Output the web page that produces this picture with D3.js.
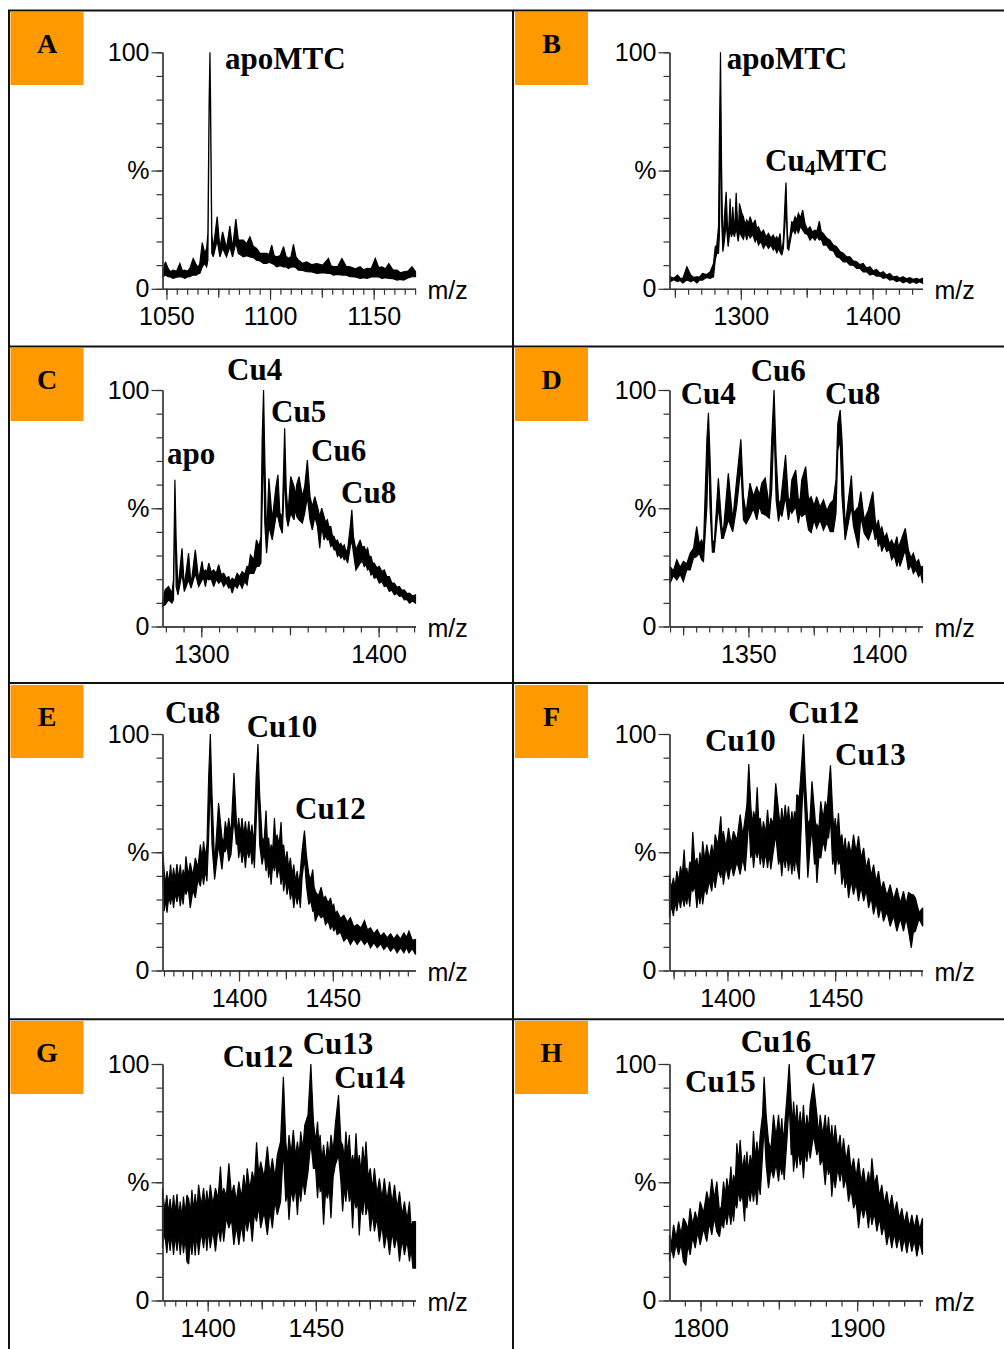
<!DOCTYPE html>
<html>
<head>
<meta charset="utf-8">
<script src="https://cdn.jsdelivr.net/npm/d3@7"></script>
<style>
  html, body { margin: 0; padding: 0; background: #fff; }
  svg { display: block; }
</style>
</head>
<body>
<script>
// ESI-MS spectra of copper loading, panels A–H.
// Each spectrum is a list of [m/z, upper %, lower %].

const panelLetters = ["A", "B", "C", "D", "E", "F", "G", "H"];

const mzDomains = [
  [1048.1, 1170.2], [1245.9, 1437.9], [1278.1, 1420.8], [1319.8, 1416.6],
  [1359.2, 1494.1], [1373.1, 1490.5], [1379.1, 1496.1], [1780.2, 1941.7]
];

const majorTicks = [
  [1050, 1100, 1150], [1300, 1400], [1300, 1400], [1350, 1400],
  [1400, 1450], [1400, 1450], [1400, 1450], [1800, 1900]
];

const minorStep = [5, 10, 10, 5, 5, 5, 5, 10];

const yTickLabels = ["0", "%", "100"];

const peakLabels = [
  [["apoMTC"]],
  [["apoMTC"], ["Cu", "4", "MTC"]],
  [["apo"], ["Cu4"], ["Cu5"], ["Cu6"], ["Cu8"]],
  [["Cu4"], ["Cu6"], ["Cu8"]],
  [["Cu8"], ["Cu10"], ["Cu12"]],
  [["Cu10"], ["Cu12"], ["Cu13"]],
  [["Cu12"], ["Cu13"], ["Cu14"]],
  [["Cu15"], ["Cu16"], ["Cu17"]]
];

const spectrumA = [
  [1048.4, 7.9, 5.1], [1049.5, 11.4, 5.8], [1050.8, 8.6, 5.1], [1052.0, 7.2, 5.0],
  [1053.2, 7.9, 4.4], [1054.9, 7.4, 4.9], [1056.5, 10.7, 5.1], [1057.7, 7.6, 4.9],
  [1058.9, 7.9, 4.4], [1060.1, 7.4, 5.0], [1061.3, 8.6, 5.1], [1062.9, 12.8, 5.8],
  [1064.5, 10.0, 5.8], [1065.3, 9.0, 6.4], [1066.1, 10.7, 6.5], [1067.3, 19.5, 9.3],
  [1068.5, 15.0, 10.7], [1069.4, 17.1, 9.3], [1070.0, 23.4, 12.1], [1070.6, 79.8, 72.8],
  [1071.0, 100, 98.2], [1071.3, 79.8, 72.8], [1071.9, 23.4, 15.0], [1072.6, 17.1, 13.5],
  [1074.5, 30.5, 20.6], [1075.8, 17.1, 13.5], [1077.1, 24.1, 17.1], [1079.0, 17.1, 13.5],
  [1080.6, 26.5, 17.8], [1081.9, 17.1, 13.5], [1083.5, 29.5, 19.5], [1084.7, 20.6, 15.0],
  [1087.1, 20.6, 13.5], [1088.7, 19.0, 14.0], [1090.3, 22.0, 13.5], [1091.9, 18.0, 13.2],
  [1093.5, 17.1, 12.1], [1095.2, 15.0, 11.8], [1096.8, 15.0, 10.7], [1098.4, 15.0, 10.7],
  [1099.6, 14.5, 11.2], [1100.8, 18.5, 10.7], [1102.0, 14.0, 10.3], [1103.2, 13.5, 9.3],
  [1104.9, 14.0, 9.8], [1106.5, 17.8, 9.3], [1107.7, 13.8, 9.3], [1108.9, 12.8, 8.6],
  [1110.1, 13.5, 9.2], [1111.3, 18.8, 9.3], [1112.5, 13.5, 8.9], [1113.7, 12.1, 7.9],
  [1115.7, 10.8, 7.8], [1117.7, 11.4, 7.2], [1120.2, 10.2, 7.1], [1122.6, 10.7, 6.5],
  [1125.4, 10.0, 6.8], [1128.2, 12.8, 6.5], [1129.4, 9.8, 6.4], [1130.6, 9.3, 5.8],
  [1132.7, 9.5, 6.1], [1134.7, 12.8, 5.8], [1136.7, 9.5, 5.8], [1138.7, 9.3, 5.1],
  [1141.1, 8.5, 5.0], [1143.5, 9.3, 4.4], [1145.2, 8.0, 4.7], [1146.8, 8.6, 4.4],
  [1148.8, 8.5, 5.0], [1150.8, 12.8, 5.1], [1152.4, 9.0, 5.0], [1154.0, 9.3, 4.4],
  [1155.7, 8.5, 4.7], [1157.3, 10.7, 4.4], [1159.3, 8.0, 4.3], [1161.3, 7.9, 3.7],
  [1162.9, 6.8, 4.0], [1164.5, 7.2, 3.7], [1166.5, 7.5, 4.6], [1168.5, 9.3, 5.1],
  [1170.2, 7.2, 5.1]
];

const spectrumB = [
  [1246.5, 5.1, 3.0], [1249.2, 4.5, 3.8], [1252.0, 5.8, 3.0], [1254.0, 4.5, 3.5],
  [1256.0, 4.4, 2.5], [1259.1, 9.3, 3.7], [1262.0, 5.8, 3.0], [1264.3, 4.8, 3.6],
  [1266.7, 5.1, 2.5], [1268.8, 5.0, 3.8], [1271.0, 6.5, 3.7], [1273.9, 6.0, 4.8],
  [1276.8, 7.2, 4.4], [1279.3, 10.7, 5.1], [1280.6, 17.8, 12.1], [1281.8, 18.5, 15.0],
  [1283.1, 26.2, 15.0], [1283.8, 65.0, 23.4], [1284.6, 100, 79.8], [1285.4, 52.0, 30.5],
  [1286.4, 17.8, 15.7], [1287.5, 30.0, 20.0], [1288.9, 41.0, 28.0], [1290.4, 19.2, 17.8],
  [1291.9, 38.2, 25.0], [1292.9, 23.4, 22.0], [1293.9, 34.7, 24.0], [1295.2, 23.4, 22.0],
  [1296.5, 40.6, 26.0], [1298.0, 22.0, 20.0], [1299.0, 36.1, 24.0], [1300.8, 31.9, 22.0],
  [1302.0, 30.5, 21.0], [1303.2, 27.0, 24.0], [1304.5, 29.1, 20.6], [1305.8, 27.5, 23.5],
  [1307.1, 30.5, 21.5], [1309.0, 27.0, 23.0], [1310.9, 29.1, 19.9], [1312.1, 25.5, 21.5],
  [1313.4, 26.2, 18.5], [1315.3, 23.5, 20.0], [1317.2, 24.8, 17.1], [1319.1, 22.0, 19.0],
  [1321.0, 23.4, 17.1], [1322.8, 21.5, 18.5], [1324.7, 22.7, 16.4], [1326.0, 21.0, 17.5],
  [1327.3, 22.0, 15.0], [1328.5, 20.5, 17.0], [1329.8, 23.4, 15.7], [1331.1, 15.0, 14.2],
  [1332.3, 20.6, 17.1], [1333.8, 40.0, 30.0], [1334.3, 44.9, 37.5], [1335.4, 23.4, 17.1],
  [1336.4, 17.8, 16.4], [1338.6, 28.3, 23.4], [1339.9, 28.0, 25.0], [1341.2, 30.5, 23.4],
  [1342.4, 29.0, 25.5], [1343.7, 31.9, 23.4], [1345.3, 30.0, 26.5], [1347.0, 33.3, 24.8],
  [1348.7, 27.6, 23.4], [1350.6, 25.0, 23.0], [1352.5, 26.2, 20.6], [1354.4, 24.0, 22.0],
  [1356.3, 24.8, 20.6], [1357.9, 24.5, 22.0], [1359.6, 28.6, 20.6], [1361.1, 24.0, 21.0],
  [1362.6, 23.4, 18.5], [1365.1, 21.5, 18.5], [1367.7, 20.6, 16.4], [1370.2, 18.5, 16.0],
  [1372.7, 17.8, 13.5], [1375.2, 15.8, 13.0], [1377.8, 15.0, 11.4], [1380.3, 13.5, 11.5],
  [1382.8, 13.5, 10.0], [1385.3, 11.8, 10.0], [1387.9, 11.4, 8.6], [1390.4, 10.2, 8.6],
  [1392.9, 10.7, 7.2], [1395.4, 8.8, 7.3], [1398.0, 9.3, 5.8], [1400.5, 7.6, 6.3],
  [1403.0, 8.2, 5.4], [1405.5, 6.6, 5.5], [1408.1, 7.2, 4.4], [1410.6, 5.8, 4.8],
  [1413.1, 6.5, 3.7], [1415.6, 5.0, 4.0], [1418.2, 5.4, 3.0], [1420.7, 4.5, 3.5],
  [1423.2, 5.1, 2.5], [1425.7, 4.2, 3.2], [1428.3, 4.7, 2.3], [1430.8, 4.0, 3.0],
  [1433.3, 4.4, 2.3], [1435.6, 3.9, 3.0], [1437.9, 4.4, 2.3]
];

const spectrumC = [
  [1278.1, 9.9, 8.5], [1279.6, 15.5, 9.2], [1281.5, 16.9, 11.3], [1283.4, 14.1, 9.9],
  [1284.3, 19.7, 11.3], [1285.1, 62.0, 50.7], [1285.8, 36.6, 16.9], [1286.8, 15.5, 13.4],
  [1289.1, 33.1, 22.5], [1290.4, 16.9, 14.8], [1292.8, 31.0, 19.7], [1294.2, 17.6, 16.2],
  [1296.6, 32.4, 22.5], [1298.5, 19.7, 16.9], [1300.4, 27.5, 19.7], [1301.3, 23.0, 20.5],
  [1302.3, 23.9, 16.9], [1303.2, 23.0, 20.5], [1304.2, 26.8, 19.7], [1305.6, 23.0, 20.0],
  [1307.0, 23.9, 16.9], [1308.4, 22.5, 20.0], [1309.8, 26.1, 18.3], [1311.2, 22.0, 19.5],
  [1312.6, 22.5, 16.9], [1314.0, 20.5, 18.5], [1315.5, 21.1, 16.2], [1316.4, 19.0, 17.0],
  [1317.4, 20.4, 14.1], [1318.8, 19.5, 17.5], [1320.2, 22.5, 16.2], [1321.6, 21.0, 18.5],
  [1323.0, 23.2, 16.2], [1324.4, 22.0, 19.0], [1325.8, 25.4, 17.6], [1326.7, 25.0, 22.0],
  [1327.7, 30.3, 22.5], [1329.6, 28.2, 22.5], [1331.1, 36.6, 25.4], [1332.5, 33.8, 25.4],
  [1333.6, 38.0, 26.8], [1334.3, 78.9, 50.7], [1335.1, 100, 78.9], [1335.8, 71.8, 43.7],
  [1336.8, 36.6, 31.0], [1338.1, 62.7, 42.3], [1340.0, 45.1, 36.6], [1342.1, 59.2, 46.5],
  [1343.2, 64.1, 46.5], [1344.3, 47.9, 42.3], [1345.7, 46.5, 39.4], [1347.0, 83.8, 64.8],
  [1347.9, 57.7, 46.5], [1348.9, 47.9, 42.3], [1350.4, 63.4, 47.9], [1352.3, 59.2, 45.1],
  [1353.0, 55.0, 50.0], [1353.8, 60.0, 46.5], [1355.1, 63.4, 45.1], [1357.0, 54.9, 43.7],
  [1358.3, 59.2, 47.9], [1359.8, 70.4, 54.9], [1361.3, 54.9, 45.1], [1362.6, 50.7, 40.8],
  [1364.0, 54.9, 46.5], [1365.5, 50.7, 42.3], [1366.8, 46.5, 33.1], [1367.9, 50.0, 42.3],
  [1369.2, 46.5, 36.6], [1370.1, 44.0, 38.5], [1371.1, 45.1, 36.6], [1372.0, 42.0, 37.0],
  [1373.0, 42.3, 33.8], [1373.9, 38.5, 34.5], [1374.9, 38.0, 32.4], [1375.8, 36.0, 32.5],
  [1376.8, 36.6, 29.6], [1377.7, 34.5, 30.5], [1378.7, 35.2, 28.9], [1379.6, 33.5, 30.0],
  [1380.6, 34.5, 28.2], [1381.5, 32.0, 29.0], [1382.5, 32.4, 26.8], [1384.0, 42.3, 33.8],
  [1384.9, 49.3, 36.6], [1385.8, 38.0, 31.0], [1387.2, 32.4, 23.9], [1389.6, 36.6, 26.8],
  [1390.7, 33.5, 27.8], [1391.9, 33.8, 25.4], [1392.8, 31.8, 26.3], [1393.8, 33.1, 23.9],
  [1394.7, 29.8, 24.5], [1395.7, 29.6, 21.8], [1396.6, 26.8, 22.6], [1397.5, 26.8, 20.4],
  [1399.0, 24.8, 20.8], [1400.4, 25.4, 18.3], [1401.8, 23.3, 19.0], [1403.2, 23.9, 16.9],
  [1404.6, 21.2, 17.2], [1406.0, 21.1, 14.8], [1407.4, 18.5, 15.3], [1408.9, 18.3, 13.4],
  [1410.3, 16.6, 14.0], [1411.7, 16.9, 12.7], [1413.1, 15.3, 12.9], [1414.5, 15.5, 11.3],
  [1416.0, 13.9, 11.5], [1417.4, 14.1, 9.9], [1419.1, 12.9, 10.8], [1420.8, 13.4, 9.9]
];

const spectrumD = [
  [1320.0, 25.4, 18.3], [1321.3, 23.5, 21.5], [1322.6, 28.2, 19.7], [1323.9, 25.0, 22.0],
  [1325.1, 27.5, 19.0], [1326.4, 26.5, 24.0], [1327.7, 31.0, 23.9], [1329.0, 33.0, 29.0],
  [1330.2, 42.3, 29.6], [1331.2, 35.0, 31.0], [1332.1, 36.6, 28.2], [1332.8, 33.8, 27.5],
  [1334.1, 78.9, 50.7], [1334.7, 90.4, 78.9], [1335.3, 71.8, 50.7], [1336.2, 36.6, 31.4],
  [1336.9, 35.0, 31.4], [1338.5, 62.7, 50.7], [1339.8, 42.3, 37.3], [1340.4, 40.0, 37.3],
  [1342.3, 64.8, 45.1], [1344.0, 45.1, 40.1], [1345.5, 62.0, 50.7], [1347.1, 79.2, 67.6],
  [1348.1, 54.9, 45.1], [1349.1, 47.9, 43.4], [1350.6, 60.6, 46.5], [1351.9, 55.0, 50.0],
  [1353.2, 59.2, 45.1], [1354.2, 55.5, 51.0], [1355.1, 60.6, 47.9], [1356.4, 62.7, 47.2],
  [1358.0, 50.7, 45.8], [1358.9, 78.9, 57.7], [1359.8, 100, 85.9], [1360.6, 71.8, 53.5],
  [1361.5, 53.5, 44.4], [1362.2, 51.5, 48.5], [1362.8, 57.7, 46.5], [1364.2, 72.5, 54.9],
  [1365.3, 53.5, 45.1], [1366.0, 54.0, 49.5], [1366.6, 62.0, 47.9], [1368.1, 66.2, 50.7],
  [1369.1, 53.5, 43.7], [1369.8, 54.0, 48.0], [1370.4, 62.0, 46.5], [1371.9, 67.6, 47.9],
  [1373.0, 53.5, 40.8], [1374.0, 54.9, 39.7], [1375.1, 51.0, 45.0], [1376.1, 54.9, 41.5],
  [1377.4, 50.5, 45.0], [1378.7, 53.5, 40.8], [1380.0, 49.0, 44.0], [1381.3, 52.1, 40.1],
  [1382.5, 53.5, 40.1], [1383.5, 62.0, 47.9], [1384.2, 85.9, 74.6], [1385.1, 91.5, 78.9],
  [1385.8, 78.9, 54.9], [1387.0, 42.3, 36.6], [1389.4, 63.8, 50.7], [1390.2, 47.9, 42.3],
  [1392.1, 50.7, 33.1], [1393.0, 57.0, 46.5], [1394.3, 45.1, 39.4], [1395.9, 49.3, 36.6],
  [1397.6, 57.0, 42.3], [1398.5, 45.1, 36.6], [1399.1, 42.0, 38.5], [1399.7, 45.1, 33.8],
  [1400.4, 40.0, 36.0], [1401.0, 42.3, 31.7], [1402.0, 37.5, 34.5], [1402.9, 39.4, 31.7],
  [1403.9, 35.0, 32.5], [1404.8, 36.6, 28.2], [1405.8, 34.0, 30.0], [1406.8, 38.0, 25.4],
  [1407.4, 33.5, 28.5], [1408.0, 35.2, 25.4], [1410.0, 41.5, 32.4], [1411.2, 32.4, 23.9],
  [1412.2, 29.0, 26.0], [1413.1, 31.0, 22.5], [1414.1, 27.0, 24.0], [1415.1, 28.2, 21.1],
  [1415.9, 25.0, 22.5], [1416.6, 25.4, 18.3]
];

const spectrumE = [
  [1359.3, 50.4, 39.2], [1360.1, 42.0, 25.1], [1360.9, 36.0, 30.0], [1361.6, 42.0, 24.4],
  [1362.6, 37.0, 31.5], [1363.5, 44.8, 27.9], [1364.3, 37.5, 32.5], [1365.1, 43.4, 26.5],
  [1366.0, 38.0, 33.0], [1366.9, 45.0, 29.0], [1367.8, 38.5, 33.5], [1368.7, 44.8, 27.2],
  [1369.5, 37.5, 33.0], [1370.2, 42.7, 27.9], [1371.0, 39.0, 35.0], [1371.7, 48.3, 32.1],
  [1372.9, 40.0, 35.0], [1374.0, 45.5, 26.5], [1375.4, 40.0, 34.0], [1376.7, 47.6, 30.7],
  [1378.1, 43.5, 38.5], [1379.4, 53.2, 35.6], [1380.3, 47.0, 41.5], [1381.1, 54.6, 36.3],
  [1382.0, 48.0, 42.5], [1382.9, 53.2, 37.7], [1383.8, 81.4, 56.1], [1384.7, 100, 81.4],
  [1385.6, 74.4, 53.2], [1387.0, 44.8, 38.5], [1389.1, 70.8, 53.2], [1390.9, 56.1, 42.7],
  [1391.8, 54.0, 50.0], [1392.7, 63.1, 50.4], [1393.6, 58.0, 53.0], [1394.5, 64.5, 46.2],
  [1395.7, 57.5, 49.0], [1397.3, 83.5, 64.5], [1398.6, 63.1, 53.2], [1399.2, 58.0, 55.0],
  [1399.8, 64.5, 47.6], [1400.7, 57.5, 52.5], [1401.6, 64.5, 45.5], [1402.5, 57.0, 51.0],
  [1403.4, 63.1, 43.4], [1404.3, 56.5, 51.5], [1405.2, 63.1, 47.6], [1406.1, 56.0, 52.0],
  [1406.9, 61.7, 44.8], [1407.6, 54.5, 50.0], [1408.2, 58.9, 43.4], [1409.1, 81.4, 61.7],
  [1410.1, 95.8, 81.4], [1411.0, 74.4, 53.2], [1412.3, 56.1, 44.8], [1413.4, 55.0, 50.0],
  [1414.4, 67.6, 42.0], [1415.1, 55.0, 47.0], [1415.8, 56.1, 39.2], [1416.5, 48.5, 44.0],
  [1417.1, 53.2, 36.3], [1418.0, 51.0, 45.5], [1418.9, 64.5, 42.0], [1419.6, 54.0, 47.0],
  [1420.3, 57.5, 39.2], [1421.4, 53.0, 44.0], [1422.4, 62.8, 36.3], [1423.1, 51.0, 41.5],
  [1423.8, 53.2, 33.5], [1424.7, 45.5, 39.0], [1425.6, 50.4, 32.1], [1426.5, 43.0, 37.0],
  [1427.4, 47.6, 30.0], [1428.3, 40.0, 34.0], [1429.2, 44.8, 26.5], [1430.1, 37.5, 33.0],
  [1431.0, 42.0, 27.9], [1431.9, 36.5, 32.5], [1432.7, 42.0, 26.5], [1433.6, 50.4, 39.2],
  [1434.9, 59.2, 47.6], [1435.9, 49.0, 36.3], [1437.2, 40.6, 27.9], [1438.3, 38.5, 29.5],
  [1439.3, 42.7, 25.1], [1440.0, 35.5, 25.5], [1440.7, 33.5, 20.8], [1442.3, 31.5, 24.0],
  [1443.8, 35.2, 22.3], [1445.0, 30.5, 23.3], [1446.1, 31.4, 19.4], [1447.5, 28.5, 21.0],
  [1448.8, 30.7, 17.3], [1449.7, 27.0, 19.5], [1450.5, 27.9, 16.6], [1451.4, 24.0, 18.5],
  [1452.3, 25.1, 15.2], [1454.1, 22.0, 16.2], [1455.9, 23.4, 12.4], [1457.7, 20.5, 14.0],
  [1459.4, 22.3, 11.0], [1461.2, 18.5, 13.3], [1463.0, 19.4, 11.0], [1465.0, 18.0, 13.3],
  [1466.9, 21.1, 11.0], [1468.5, 17.2, 12.5], [1470.1, 18.0, 9.6], [1471.9, 15.5, 11.8],
  [1473.7, 17.3, 9.6], [1475.5, 14.5, 11.3], [1477.2, 15.9, 8.9], [1479.0, 13.8, 10.6],
  [1480.8, 15.5, 8.2], [1482.6, 13.3, 10.0], [1484.3, 15.2, 7.5], [1486.1, 13.3, 9.7],
  [1487.9, 15.9, 7.5], [1489.3, 14.0, 9.7], [1490.6, 16.6, 7.5], [1492.4, 12.8, 9.3],
  [1494.1, 13.1, 6.8]
];

const spectrumF = [
  [1373.1, 40.6, 22.3], [1374.0, 34.5, 27.5], [1374.9, 39.2, 23.0], [1375.7, 35.0, 29.0],
  [1376.5, 42.0, 25.1], [1377.4, 37.5, 31.0], [1378.2, 44.0, 26.5], [1379.0, 40.0, 31.5],
  [1379.9, 51.1, 27.0], [1380.5, 41.0, 32.0], [1381.1, 43.4, 27.9], [1381.8, 39.0, 33.0],
  [1382.5, 46.0, 27.0], [1383.2, 44.0, 35.0], [1383.9, 58.6, 33.5], [1384.9, 45.0, 35.5],
  [1385.8, 47.6, 26.5], [1386.5, 42.0, 33.0], [1387.2, 50.0, 28.0], [1387.9, 45.0, 34.0],
  [1388.5, 54.6, 27.9], [1389.5, 46.5, 35.0], [1390.4, 53.2, 32.1], [1391.6, 47.0, 38.0],
  [1392.7, 53.2, 33.5], [1393.5, 48.5, 40.0], [1394.3, 57.5, 34.9], [1395.6, 53.0, 43.0],
  [1396.9, 65.2, 39.2], [1397.5, 55.0, 43.5], [1398.1, 58.9, 36.3], [1399.3, 52.0, 44.0],
  [1400.5, 60.3, 38.5], [1401.7, 53.0, 45.0], [1402.8, 58.9, 39.9], [1404.4, 55.0, 46.0],
  [1405.9, 65.9, 40.6], [1407.1, 57.0, 47.5], [1408.2, 64.5, 42.0], [1409.0, 70.1, 51.8],
  [1409.9, 87.3, 64.5], [1410.8, 70.1, 47.6], [1411.5, 61.0, 51.0], [1412.1, 67.3, 43.4],
  [1413.0, 64.0, 51.5], [1413.8, 77.5, 47.6], [1414.5, 63.0, 52.0], [1415.2, 64.5, 44.8],
  [1416.0, 57.5, 50.0], [1416.7, 63.1, 43.4], [1417.7, 58.0, 50.0], [1418.6, 68.0, 43.4],
  [1419.4, 59.0, 49.5], [1420.1, 64.5, 42.7], [1421.3, 62.0, 50.5], [1422.4, 79.2, 57.5],
  [1423.7, 67.3, 44.8], [1424.5, 61.0, 48.0], [1425.2, 68.7, 39.9], [1426.0, 62.0, 48.5],
  [1426.8, 70.1, 43.4], [1427.6, 62.5, 49.0], [1428.3, 69.4, 42.0], [1429.1, 61.0, 48.0],
  [1429.9, 67.3, 40.6], [1430.5, 61.5, 47.5], [1431.1, 67.3, 42.0], [1431.7, 64.0, 49.0],
  [1432.2, 74.4, 44.8], [1433.3, 73.0, 38.5], [1434.5, 88.5, 67.3], [1435.3, 100, 81.4],
  [1436.1, 81.4, 64.5], [1437.3, 61.7, 39.2], [1438.3, 64.0, 52.0], [1439.2, 80.0, 60.3],
  [1440.4, 67.3, 44.8], [1441.0, 60.0, 47.0], [1441.5, 61.7, 37.0], [1442.4, 60.0, 48.0],
  [1443.3, 71.5, 47.6], [1444.4, 64.0, 55.0], [1445.4, 71.5, 50.4], [1446.2, 68.0, 56.0],
  [1446.9, 77.2, 56.1], [1447.8, 86.8, 64.5], [1448.8, 67.3, 44.8], [1449.4, 59.0, 49.0],
  [1450.0, 64.5, 40.6], [1450.8, 58.0, 49.0], [1451.5, 66.6, 44.8], [1452.3, 55.0, 46.5],
  [1453.1, 57.5, 36.3], [1453.9, 50.0, 41.5], [1454.6, 56.1, 34.9], [1455.4, 48.5, 39.0],
  [1456.2, 54.6, 30.7], [1457.4, 49.0, 38.0], [1458.5, 57.5, 32.1], [1459.7, 50.0, 37.0],
  [1460.8, 56.8, 29.3], [1462.0, 47.5, 35.5], [1463.2, 51.8, 29.3], [1464.4, 43.0, 34.0],
  [1465.5, 47.6, 26.5], [1466.7, 40.0, 31.0], [1467.8, 44.8, 23.7], [1469.0, 37.5, 29.0],
  [1470.1, 42.0, 22.3], [1471.3, 34.0, 27.0], [1472.4, 37.7, 20.8], [1474.0, 31.5, 25.0],
  [1475.5, 36.3, 18.7], [1477.1, 30.0, 23.0], [1478.6, 34.9, 16.6], [1480.2, 28.5, 22.0],
  [1481.7, 33.5, 16.6], [1482.9, 28.0, 22.0], [1484.0, 33.0, 17.0], [1485.3, 32.1, 9.6],
  [1486.2, 32.0, 16.0], [1487.2, 30.7, 16.6], [1488.9, 24.5, 22.0], [1490.6, 26.5, 18.7]
];

const spectrumG = [
  [1379.1, 47.5, 22.1], [1380.1, 38.0, 29.0], [1381.1, 44.6, 20.0], [1381.9, 36.5, 28.5],
  [1382.6, 43.0, 21.0], [1383.4, 36.0, 28.0], [1384.2, 44.6, 19.3], [1385.0, 37.0, 27.5],
  [1385.8, 45.0, 21.0], [1386.6, 35.5, 28.0], [1387.3, 41.8, 19.3], [1388.1, 35.0, 27.5],
  [1388.8, 44.0, 20.0], [1389.6, 36.5, 26.5], [1390.4, 44.6, 16.5], [1391.2, 43.0, 15.4],
  [1392.0, 37.0, 26.0], [1392.7, 46.8, 19.3], [1393.5, 38.0, 27.5], [1394.2, 45.0, 19.0],
  [1395.0, 38.5, 28.0], [1395.8, 48.9, 19.3], [1397.0, 40.0, 29.0], [1398.1, 47.5, 22.1],
  [1398.9, 39.5, 29.5], [1399.6, 46.5, 21.0], [1400.4, 40.0, 30.0], [1401.2, 48.9, 22.1],
  [1402.4, 40.5, 29.5], [1403.6, 47.5, 20.7], [1404.8, 43.0, 31.0], [1405.9, 56.6, 24.9],
  [1406.7, 44.0, 32.5], [1407.4, 47.5, 24.9], [1408.6, 44.0, 35.0], [1409.8, 58.0, 30.6],
  [1411.0, 44.5, 34.5], [1412.1, 48.9, 23.5], [1413.3, 42.0, 31.5], [1414.4, 50.3, 23.5],
  [1415.6, 43.5, 32.0], [1416.7, 53.1, 24.9], [1417.5, 46.0, 35.0], [1418.3, 55.9, 29.2],
  [1419.5, 47.0, 35.5], [1420.6, 54.5, 24.9], [1421.6, 50.0, 37.0], [1422.6, 66.9, 33.4],
  [1423.6, 53.0, 40.0], [1424.5, 58.7, 30.6], [1426.1, 52.0, 37.5], [1427.6, 65.1, 27.7],
  [1428.8, 53.0, 38.0], [1429.9, 60.1, 30.6], [1431.1, 52.0, 42.0], [1432.2, 61.5, 36.2],
  [1433.7, 67.2, 41.8], [1435.0, 94.6, 64.4], [1436.1, 67.2, 41.8], [1436.9, 60.0, 46.0],
  [1437.6, 70.0, 34.1], [1438.6, 62.0, 47.0], [1439.6, 72.1, 41.8], [1440.6, 61.0, 48.0],
  [1441.5, 67.2, 36.2], [1442.3, 61.0, 48.0], [1443.0, 71.4, 41.8], [1444.0, 64.0, 51.0],
  [1444.9, 74.2, 44.6], [1446.4, 78.5, 54.5], [1447.7, 100, 67.2], [1448.9, 75.6, 55.9],
  [1449.9, 67.0, 56.0], [1450.8, 75.6, 43.2], [1451.4, 66.0, 52.0], [1452.0, 70.0, 46.1],
  [1452.8, 59.0, 47.0], [1453.6, 65.8, 32.0], [1454.5, 58.0, 46.0], [1455.4, 67.2, 43.2],
  [1456.2, 60.0, 48.0], [1457.0, 70.0, 34.8], [1458.0, 63.0, 52.0], [1459.0, 74.2, 57.3],
  [1460.5, 86.9, 61.5], [1461.6, 67.2, 50.3], [1462.4, 65.8, 37.6], [1463.2, 60.0, 48.0],
  [1463.9, 71.4, 41.8], [1464.7, 62.0, 50.0], [1465.5, 70.0, 41.8], [1466.3, 57.0, 45.0],
  [1467.0, 61.5, 30.6], [1467.8, 57.0, 44.0], [1468.6, 70.7, 39.0], [1469.4, 57.0, 42.0],
  [1470.1, 61.5, 27.5], [1470.9, 54.0, 40.0], [1471.7, 65.1, 36.2], [1472.5, 57.0, 45.0],
  [1473.2, 67.2, 36.2], [1474.2, 52.0, 41.0], [1475.2, 55.9, 29.2], [1476.2, 47.0, 37.0],
  [1477.1, 55.9, 29.2], [1478.3, 45.0, 35.0], [1479.4, 51.7, 24.9], [1480.6, 43.0, 32.0],
  [1481.7, 51.7, 22.1], [1482.9, 42.0, 29.0], [1484.1, 50.3, 19.3], [1485.3, 41.0, 29.0],
  [1486.4, 48.9, 22.1], [1487.6, 39.0, 27.5], [1488.7, 46.1, 16.5], [1489.9, 36.0, 26.0],
  [1491.0, 41.8, 19.3], [1492.2, 34.0, 25.5], [1493.3, 41.8, 16.5], [1494.1, 31.0, 22.0],
  [1494.9, 33.4, 13.7], [1496.1, 33.4, 13.7]
];

const spectrumH = [
  [1780.2, 27.7, 16.5], [1781.5, 24.0, 22.5], [1782.8, 32.0, 17.9], [1784.4, 26.5, 24.0],
  [1786.0, 33.4, 19.3], [1787.6, 28.0, 24.0], [1789.1, 34.8, 16.5], [1790.6, 33.0, 14.8],
  [1792.0, 30.0, 23.5], [1793.4, 39.0, 19.3], [1795.0, 32.0, 27.0], [1796.6, 37.6, 22.1],
  [1798.2, 33.5, 29.0], [1799.8, 41.8, 23.5], [1801.9, 37.0, 30.5], [1804.0, 46.1, 24.9],
  [1805.6, 41.0, 33.0], [1807.2, 51.4, 27.7], [1808.8, 43.0, 35.0], [1810.4, 50.3, 29.2],
  [1812.1, 37.6, 27.0], [1813.4, 40.0, 33.0], [1814.7, 50.3, 30.6], [1815.8, 44.0, 37.0],
  [1816.8, 51.7, 32.0], [1818.1, 46.0, 38.5], [1819.4, 56.6, 32.0], [1820.3, 47.0, 39.0],
  [1821.1, 53.1, 33.4], [1822.2, 50.0, 42.0], [1823.2, 66.5, 39.0], [1824.3, 58.0, 47.0],
  [1825.3, 67.9, 41.8], [1826.7, 55.0, 45.0], [1828.1, 61.5, 33.4], [1828.9, 54.0, 44.0],
  [1829.6, 63.0, 39.0], [1830.7, 54.0, 47.0], [1831.7, 61.5, 41.8], [1832.8, 57.0, 48.0],
  [1833.8, 71.7, 41.8], [1834.9, 60.0, 48.0], [1836.0, 67.2, 40.4], [1837.1, 60.0, 50.0],
  [1838.1, 70.0, 44.6], [1839.6, 78.5, 61.5], [1840.6, 94.6, 74.2], [1841.9, 78.5, 57.3],
  [1843.4, 67.2, 47.5], [1845.0, 64.0, 56.0], [1846.6, 78.5, 51.7], [1848.2, 69.0, 58.0],
  [1849.8, 78.5, 50.3], [1850.9, 69.0, 58.0], [1851.9, 77.0, 53.1], [1852.7, 68.0, 58.0],
  [1853.4, 71.4, 51.0], [1855.1, 85.5, 67.2], [1856.6, 100, 84.1], [1857.9, 82.7, 61.5],
  [1858.7, 74.0, 64.0], [1859.4, 84.1, 54.5], [1860.5, 74.0, 62.0], [1861.5, 82.7, 55.9],
  [1862.6, 72.0, 64.0], [1863.6, 79.9, 57.3], [1864.7, 72.0, 62.0], [1865.7, 82.7, 51.7],
  [1866.8, 71.0, 63.0], [1867.9, 78.5, 58.7], [1869.0, 72.0, 66.0], [1870.0, 82.7, 60.1],
  [1872.1, 91.8, 70.0], [1874.3, 78.5, 61.5], [1875.4, 70.0, 65.0], [1876.4, 78.5, 57.3],
  [1878.0, 70.0, 60.0], [1879.6, 78.5, 48.9], [1880.7, 69.0, 58.0], [1881.7, 77.7, 53.1],
  [1882.8, 67.0, 56.0], [1883.8, 74.2, 43.9], [1884.9, 66.0, 53.0], [1886.0, 74.2, 47.5],
  [1887.6, 64.0, 56.0], [1889.1, 70.0, 50.3], [1890.2, 61.0, 56.0], [1891.3, 68.6, 47.5],
  [1892.9, 59.0, 52.0], [1894.5, 65.8, 41.8], [1896.1, 55.0, 47.0], [1897.7, 60.1, 39.0],
  [1899.3, 52.0, 42.0], [1900.9, 60.1, 30.6], [1902.5, 50.0, 40.0], [1904.0, 55.9, 34.8],
  [1905.6, 48.0, 40.0], [1907.2, 54.5, 30.6], [1908.3, 49.0, 38.0], [1909.4, 60.1, 32.0],
  [1911.0, 49.0, 37.0], [1912.6, 53.1, 29.2], [1914.2, 44.0, 35.0], [1915.7, 48.9, 27.7],
  [1917.3, 41.0, 32.0], [1918.9, 46.1, 23.5], [1920.5, 39.0, 29.0], [1922.1, 44.6, 22.1],
  [1923.7, 37.0, 28.5], [1925.3, 41.8, 22.1], [1926.9, 34.5, 27.5], [1928.5, 39.0, 20.7],
  [1930.1, 32.5, 26.5], [1931.7, 37.6, 20.0], [1933.3, 31.0, 26.5], [1934.9, 36.2, 20.7],
  [1936.5, 30.5, 25.5], [1938.1, 36.2, 18.6], [1939.9, 30.0, 25.0], [1941.7, 34.8, 19.3]
];

const spectra = [spectrumA, spectrumB, spectrumC, spectrumD,
                 spectrumE, spectrumF, spectrumG, spectrumH];

// ---- layout ----
const W = 1004, H = 1349;
const colX = [162.5, 669.5];          // left edge of each plot column
const plotW = 253;
const rowTop = [52.3, 390, 734, 1064]; // y of 100 %
const plotH = 236.5;
const boxX = [10.5, 515];
const boxY = [12, 348, 685, 1021];
const boxSize = 73;

// label offsets (px) relative to each plot's top-left corner
const labelPos = [
  [[62.5, 16.7]],
  [[57.2, 16.7], [95.5, 118.4]],
  [[4.5, 74], [64.5, -10], [108.5, 31.7], [148.5, 70.7], [178.5, 112.7]],
  [[11.2, 14], [81.2, -9.3], [155.5, 14]],
  [[2.5, -11], [84.2, 3.3], [132.5, 84.7]],
  [[35.5, 16.7], [118.8, -11], [165.5, 30.7]],
  [[60.2, 2.7], [140.2, -9.7], [171.8, 24.3]],
  [[15.5, 28.3], [71.2, -11.7], [135.5, 11]]
];

const sansFont = "'Liberation Sans', Arial, sans-serif";
const serifFont = "'Liberation Serif', 'Times New Roman', serif";

const svg = d3.select("body").append("svg")
  .attr("width", W).attr("height", H)
  .attr("viewBox", `0 0 ${W} ${H}`);

svg.append("rect").attr("width", W).attr("height", H).attr("fill", "#fff");

// ---- frame grid ----
const grid = svg.append("g").attr("stroke", "#111").attr("stroke-width", 2);
grid.append("line").attr("x1", 8).attr("x2", W).attr("y1", 10.5).attr("y2", 10.5);
[346.5, 683, 1019.3].forEach(y =>
  grid.append("line").attr("x1", 8).attr("x2", W).attr("y1", y).attr("y2", y));
grid.append("line").attr("x1", 9).attr("x2", 9).attr("y1", 10).attr("y2", H);
grid.append("line").attr("x1", 513).attr("x2", 513).attr("y1", 10).attr("y2", H);

// ---- panels ----
spectra.forEach((raw, i) => {
  const data = d3.sort(raw, d => d[0]);
  const col = i % 2, row = Math.floor(i / 2);
  const x0 = colX[col], y0 = rowTop[row];

  // panel letter box
  svg.append("rect")
    .attr("x", boxX[col]).attr("y", boxY[row])
    .attr("width", boxSize).attr("height", boxSize)
    .attr("fill", "#ff9900");
  svg.append("text")
    .attr("x", boxX[col] + boxSize / 2).attr("y", boxY[row] + 40.5)
    .attr("text-anchor", "middle")
    .attr("font-family", serifFont).attr("font-weight", "bold")
    .attr("font-size", 28).attr("fill", "#000")
    .text(panelLetters[i]);

  const g = svg.append("g").attr("transform", `translate(${x0},${y0})`);

  const x = d3.scaleLinear().domain(mzDomains[i]).range([0, plotW]);
  const y = d3.scaleLinear().domain([0, 100]).range([plotH, 0]);

  // spectrum trace as a filled noise band
  const area = d3.area()
    .x(d => x(d[0]))
    .y0(d => y(d[2]))
    .y1(d => y(d[1]));
  g.append("path")
    .datum(data)
    .attr("d", area)
    .attr("fill", "#000")
    .attr("stroke", "#000")
    .attr("stroke-width", 1.2)
    .attr("stroke-linejoin", "miter")
    .attr("stroke-miterlimit", 3);

  // x axis: minor, medium and labelled major ticks
  const [d0, d1] = mzDomains[i];
  const step = minorStep[i];
  const minor = d3.range(Math.ceil(d0 / step) * step, d1 + 1e-6, step);
  const majStep = majorTicks[i].length > 1 ? majorTicks[i][1] - majorTicks[i][0] : 100;
  const medium = minor.filter(v => Math.abs((v / (majStep / 2)) - Math.round(v / (majStep / 2))) < 1e-6
                               && !majorTicks[i].includes(v));

  const xg = g.append("g").attr("transform", `translate(0,${plotH})`);
  xg.append("g").call(d3.axisBottom(x).tickValues(minor).tickSize(6).tickSizeOuter(0).tickFormat(""));
  xg.append("g").call(d3.axisBottom(x).tickValues(medium).tickSize(9).tickSizeOuter(0).tickFormat(""));
  xg.append("g").call(d3.axisBottom(x).tickValues(majorTicks[i]).tickSize(11).tickSizeOuter(0)
      .tickPadding(7.5).tickFormat(d3.format("d")));

  // y axis
  const yg = g.append("g");
  yg.append("g").call(d3.axisLeft(y).tickValues(d3.range(0, 101, 10)).tickSize(6).tickSizeOuter(0).tickFormat(""));
  yg.append("g").call(d3.axisLeft(y).tickValues([0, 50, 100]).tickSize(11).tickSizeOuter(0)
      .tickPadding(2).tickFormat((d, k) => yTickLabels[k]));

  g.selectAll(".domain, .tick line").attr("stroke", "#333").attr("stroke-width", 1.2);
  g.selectAll(".tick text")
    .attr("font-family", sansFont).attr("font-size", 25).attr("fill", "#000");

  // axis title
  g.append("text")
    .attr("x", plotW + 12).attr("y", plotH + 10)
    .attr("font-family", sansFont).attr("font-size", 25).attr("fill", "#000")
    .text("m/z");

  // peak annotations
  peakLabels[i].forEach((parts, k) => {
    const [dx, dy] = labelPos[i][k];
    const t = g.append("text")
      .attr("x", dx).attr("y", dy)
      .attr("font-family", serifFont).attr("font-weight", "bold")
      .attr("font-size", 31).attr("fill", "#000");
    if (parts.length === 1) {
      t.text(parts[0]);
    } else {
      t.append("tspan").text(parts[0]);
      t.append("tspan").attr("font-size", 22).attr("dy", 4).text(parts[1]);
      t.append("tspan").attr("dy", -4).text(parts[2]);
    }
  });
});
</script>
</body>
</html>
